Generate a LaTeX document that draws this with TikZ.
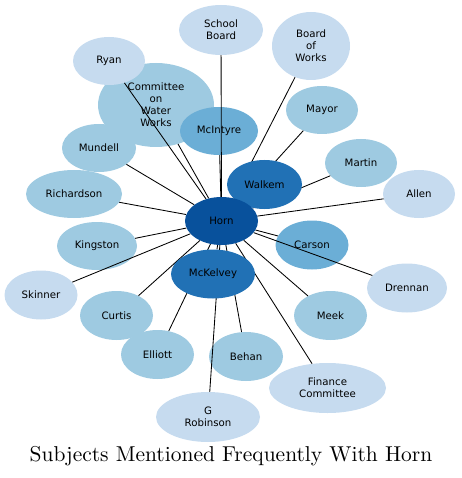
\documentclass[tikz,border=0pt]{standalone}
\usepackage{fontspec}
\setsansfont{DejaVu Sans}
\newfontfamily\titlefont{lmroman10-regular.otf}
\usetikzlibrary{shapes.geometric}
\definecolor{bA}{HTML}{08519C}
\definecolor{bB}{HTML}{2171B5}
\definecolor{bC}{HTML}{6BAED6}
\definecolor{bD}{HTML}{9ECAE1}
\definecolor{bE}{HTML}{C6DBEF}
\tikzset{
  subj/.style n args={2}{ellipse, inner sep=0pt, minimum width=#1pt, minimum height=#2pt,
     align=center, font=\sffamily\fontsize{10.2}{12}\selectfont, text=black},
  lv1/.style={fill=bA},
  lv2/.style={fill=bB},
  lv3/.style={fill=bC},
  lv4/.style={fill=bD},
  lv5/.style={fill=bE},
  link/.style={draw=black, line width=0.85pt},
}
\begin{document}
\begin{tikzpicture}[x=1pt,y=-1pt]
\useasboundingbox (0,0) rectangle (461,478);
% outer nodes
\node[subj={84}{50}, lv5] (school) at (221,30) {School\\Board};
\node[subj={78}{68}, lv5] (board) at (311,46) {Board\\of\\Works};
\node[subj={116}{84}, lv4] (committee) at (156,105) {Committee\\on\\Water\\Works};
\node[subj={72}{48}, lv5] (ryan) at (109,61) {Ryan};
\node[subj={78}{48}, lv3] (mcintyre) at (219,131) {McIntyre};
\node[subj={72}{48}, lv4] (mayor) at (322,110) {Mayor};
\node[subj={74}{48}, lv4] (mundell) at (99,148) {Mundell};
\node[subj={72}{48}, lv4] (martin) at (361,163) {Martin};
\node[subj={72}{48}, lv5] (allen) at (419,194) {Allen};
\node[subj={96}{48}, lv4] (richardson) at (74,194) {Richardson};
\node[subj={80}{48}, lv4] (kingston) at (97,246) {Kingston};
\node[subj={73}{49}, lv3] (carson) at (312,245) {Carson};
\node[subj={80}{49}, lv5] (drennan) at (407,288) {Drennan};
\node[subj={73}{49}, lv5] (skinner) at (41,295) {Skinner};
\node[subj={73}{49}, lv4] (curtis) at (116.5,315.5) {Curtis};
\node[subj={73}{49}, lv4] (meek) at (330.5,315.5) {Meek};
\node[subj={73}{49}, lv4] (elliott) at (157.5,354.5) {Elliott};
\node[subj={74}{49}, lv4] (behan) at (246,356.5) {Behan};
\node[subj={117}{50}, lv5] (finance) at (327.5,388) {Finance\\Committee};
\node[subj={104}{50}, lv5] (robinson) at (208,417) {G\\Robinson};
% central nodes (placed now for anchors, redrawn on top later)
\path (264.5,184.5) coordinate (walkemc) (213,274) coordinate (mckelveyc) (221.5,221) coordinate (hornc);
\node[subj={75}{49}] (walkem) at (walkemc) {};
\node[subj={84}{49}] (mckelvey) at (mckelveyc) {};
\node[subj={73}{48}] (horn) at (hornc) {};
% connectors
\foreach \t in {school,board,committee,ryan,mcintyre,mayor,mundell,martin,allen,
  richardson,kingston,carson,drennan,skinner,curtis,meek,elliott,behan,finance,robinson,walkem,mckelvey}
  \draw[link] (horn) -- (\t);
% central nodes on top
\node[subj={75}{49}, lv2] (walkemtop) at (walkemc) {Walkem};
\node[subj={84}{49}, lv2] (mckelveytop) at (mckelveyc) {McKelvey};
\node[subj={73}{48}, lv1] (horntop) at (hornc) {Horn};
% title
\node[font=\titlefont\fontsize{21.5}{24}\selectfont, inner sep=0pt] (title) at (231,456) {Subjects Mentioned Frequently With Horn};
\end{tikzpicture}
\end{document}
